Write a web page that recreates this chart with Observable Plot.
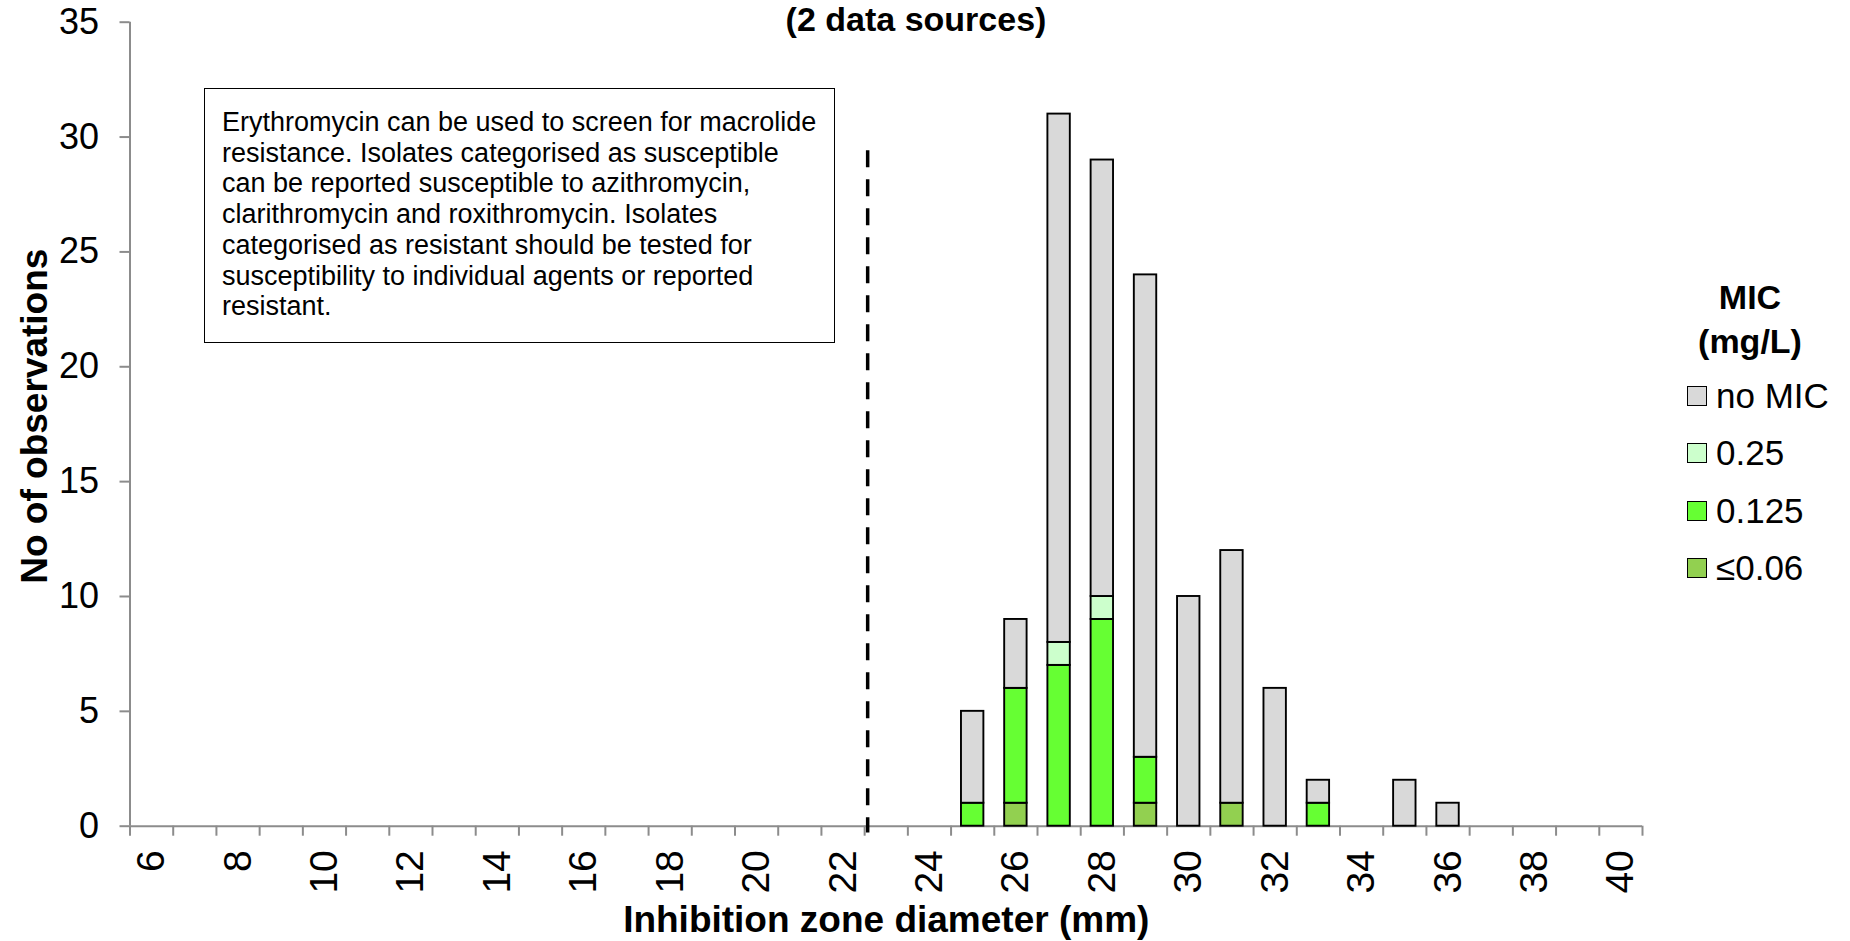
<!DOCTYPE html>
<html>
<head>
<meta charset="utf-8">
<script src="https://cdn.jsdelivr.net/npm/d3@7"></script>
<script src="https://cdn.jsdelivr.net/npm/@observablehq/plot@0.6"></script>
<style>
  body { margin: 0; background: #fff; font-family: "Liberation Sans", Arial, sans-serif; }
  #chart { position: relative; width: 1850px; height: 941px; overflow: hidden; }
  #chart svg { position: absolute; left: 0; top: 0; }
  .title { position: absolute; left: 916px; top: 2px; transform: translateX(-50%);
           font-weight: bold; font-size: 34px; line-height: 34px; white-space: nowrap; }
  .note { position: absolute; left: 204px; top: 88px; width: 631px; height: 255px; box-sizing: border-box;
          border: 1.5px solid #000; background: #fff; padding: 18px 0 0 17px;
          font-size: 27px; line-height: 30.7px; color: #000; }
  .legend { position: absolute; left: 1640px; top: 275px; width: 210px; }
  .legend .ltitle { text-align: center; font-weight: bold; font-size: 34px; line-height: 44px; padding-left: 10px; }
  .legend .item { position: absolute; left: 47px; height: 40px; display: flex; align-items: center; font-size: 35px; white-space: nowrap; }
  .legend .sw { width: 18px; height: 18px; border: 1.5px solid #000; margin-right: 9px; }
</style>
</head>
<body>
<div id="chart"></div>
<script>
// Inhibition zone diameters (mm) that have observations
const zones = [25, 26, 27, 28, 29, 30, 31, 32, 33, 35, 36];

// MIC categories, stacked bottom to top, and their fills
const micLevels = ["≤0.06", "0.125", "0.25", "no MIC"];
const micColors = ["#92D050", "#66FF33", "#CCFFCC", "#D9D9D9"];

// Number of observations per zone for each MIC category
const countLe006 = [0, 1, 0, 0, 1, 0, 1, 0, 0, 0, 0];
const count0125  = [1, 5, 7, 9, 2, 0, 0, 0, 1, 0, 0];
const count025   = [0, 0, 1, 1, 0, 0, 0, 0, 0, 0, 0];
const countNoMic = [4, 3, 23, 19, 21, 10, 11, 6, 1, 2, 1];

// Axis categories and tick labels
const zoneCategories = [6,7,8,9,10,11,12,13,14,15,16,17,18,19,20,21,22,23,24,25,26,27,28,29,30,31,32,33,34,35,36,37,38,39,40];
const xTickLabels = [6, 8, 10, 12, 14, 16, 18, 20, 22, 24, 26, 28, 30, 32, 34, 36, 38, 40];
const yTicks = [0, 5, 10, 15, 20, 25, 30, 35];

// Screening breakpoint (dashed line) and its extent
const breakpoint = 22.57;
const breakpointTop = 29.4;

const chartTitle = "(2 data sources)";
const xTitle = "Inhibition zone diameter (mm)";
const yTitle = "No of observations";
const legendTitle = ["MIC", "(mg/L)"];
const noteLines = [
  "Erythromycin can be used to screen for macrolide",
  "resistance. Isolates categorised as susceptible",
  "can be reported susceptible to azithromycin,",
  "clarithromycin and roxithromycin. Isolates",
  "categorised as resistant should be tested for",
  "susceptibility to individual agents or reported",
  "resistant."
];

// Long-format rows, in stacking order
const seriesCounts = [countLe006, count0125, count025, countNoMic];
const rows = [];
zones.forEach((z, i) => {
  micLevels.forEach((m, j) => {
    const c = seriesCounts[j][i];
    if (c > 0) rows.push({zone: z, mic: m, count: c});
  });
});

const xMin = d3.min(zoneCategories) - 0.5;
const xMax = d3.max(zoneCategories) + 0.5;
const bandEdges = zoneCategories.map(z => z - 0.5).concat([xMax]);
const axisGrey = "#8c8c8c";
const font = "Liberation Sans, Arial, sans-serif";

const plot = Plot.plot({
  width: 1850,
  height: 941,
  marginLeft: 129.5,
  marginRight: 208,
  marginTop: 21.7,
  marginBottom: 115.3,
  x: {domain: [xMin, xMax], axis: null},
  y: {domain: [0, d3.max(yTicks)], axis: null},
  color: {domain: micLevels, range: micColors},
  style: {fontFamily: font, background: "white", overflow: "visible", color: "black"},
  marks: [
    Plot.ruleX([xMin], {stroke: axisGrey, strokeWidth: 2}),
    Plot.ruleY([0], {stroke: axisGrey, strokeWidth: 2}),
    Plot.axisY({ticks: yTicks, tickSize: 10, tickPadding: 21, fontSize: 36, stroke: axisGrey, strokeWidth: 2, fill: "black", label: null}),
    Plot.axisX({ticks: bandEdges, tickSize: 10, tickFormat: () => "", stroke: axisGrey, strokeWidth: 2, label: null}),
    Plot.axisX({ticks: xTickLabels, tickSize: 0, tickPadding: 24, tickRotate: -90, fontSize: 39, fill: "black", label: null}),
    Plot.rectY(rows, {
      x1: d => d.zone - 0.5,
      x2: d => d.zone + 0.5,
      y: "count",
      fill: "mic",
      stroke: "black",
      strokeWidth: 1.9,
      insetLeft: 10.4,
      insetRight: 10.4
    }),
    Plot.ruleX([breakpoint], {y1: breakpointTop, y2: -0.3, stroke: "black", strokeWidth: 3.5, strokeDasharray: "17,12"}),
    Plot.text([xTitle], {frameAnchor: "bottom", dy: 106, fontSize: 37, fontWeight: "bold", fill: "black"}),
    Plot.text([yTitle], {frameAnchor: "left", textAnchor: "middle", dx: -95, dy: -8, rotate: -90, fontSize: 37, fontWeight: "bold", fill: "black"})
  ]
});

const chart = document.getElementById("chart");
chart.appendChild(plot);

// Title
const t = document.createElement("div");
t.className = "title";
t.textContent = chartTitle;
chart.appendChild(t);

// Note box
const note = document.createElement("div");
note.className = "note";
noteLines.forEach((line, i) => {
  if (i > 0) note.appendChild(document.createElement("br"));
  note.appendChild(document.createTextNode(line));
});
chart.appendChild(note);

// Legend, top entry is the top of the stack
const legend = document.createElement("div");
legend.className = "legend";
legendTitle.forEach(s => {
  const d = document.createElement("div");
  d.className = "ltitle";
  d.textContent = s;
  legend.appendChild(d);
});
micLevels.slice().reverse().forEach((m, i) => {
  const item = document.createElement("div");
  item.className = "item";
  item.style.top = (101 + i * 57.3) + "px";
  const sw = document.createElement("div");
  sw.className = "sw";
  sw.style.background = micColors[micLevels.indexOf(m)];
  const lab = document.createElement("span");
  lab.textContent = m;
  item.appendChild(sw);
  item.appendChild(lab);
  legend.appendChild(item);
});
chart.appendChild(legend);
</script>
</body>
</html>
